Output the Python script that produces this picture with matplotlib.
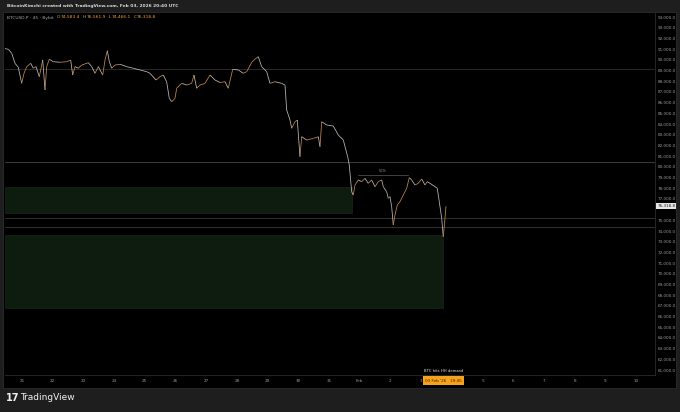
import matplotlib
matplotlib.use("Agg")
import matplotlib.pyplot as plt
from matplotlib.collections import LineCollection
from matplotlib.patches import Rectangle
import matplotlib.transforms as mtrans
import numpy as np

# ---- data (days since Jan 21 2026 00:00 UTC, BTCUSD.P price) ----
t_days = [-0.586, -0.446, -0.335, -0.228, -0.121, -0.010, 0.065, 0.153, 0.283, 0.368,
          0.456, 0.563, 0.674, 0.749, 0.804, 0.889, 1.019, 1.238, 1.456, 1.586,
          1.651, 1.726, 1.834, 1.945, 2.160, 2.270, 2.378, 2.485, 2.629, 2.704,
          2.779, 2.844, 2.922, 3.029, 3.192, 3.410, 3.625, 3.844, 4.062, 4.169,
          4.365, 4.495, 4.603, 4.713, 4.798, 4.876, 4.984, 5.039, 5.202, 5.365,
          5.527, 5.602, 5.690, 5.798, 5.961, 6.124, 6.287, 6.450, 6.612, 6.720,
          6.863, 7.046, 7.208, 7.319, 7.482, 7.590, 7.697, 7.807, 7.970, 8.078,
          8.241, 8.459, 8.567, 8.622, 8.730, 8.785, 8.893, 8.967, 9.055, 9.111,
          9.274, 9.489, 9.651, 9.707, 9.762, 9.925, 10.140, 10.303, 10.466, 10.609,
          10.661, 10.739, 10.791, 10.847, 10.954, 11.065, 11.173, 11.279, 11.390, 11.498,
          11.605, 11.716, 11.769, 11.879, 11.932, 11.987, 12.042, 12.094, 12.150, 12.225,
          12.313, 12.420, 12.531, 12.615, 12.694, 12.801, 12.909, 13.019, 13.127, 13.202,
          13.290, 13.453, 13.528, 13.593, 13.671, 13.723, 13.779, 13.811]
price = [91075, 90980, 90610, 89670, 89300, 87800, 88740, 89360, 89670, 89210,
         89360, 88420, 89980, 87180, 89360, 90050, 89820, 89770, 89820, 89980,
         88580, 89360, 89210, 89510, 89730, 89360, 88740, 89360, 88580, 89980,
         90850, 89820, 89210, 89510, 89580, 89360, 89210, 89050, 88890, 88740,
         88110, 88420, 88580, 87930, 86400, 86080, 86400, 87340, 87800, 87640,
         87800, 88580, 87340, 87640, 87800, 88580, 88110, 87880, 87950, 87340,
         89110, 89050, 88740, 88890, 89750, 90070, 90290, 89360, 88890, 87800,
         87950, 87800, 87640, 85310, 84370, 83600, 84210, 84370, 80940, 82810,
         82500, 82660, 82810, 81880, 84210, 83910, 83810, 82970, 82500, 80940,
         80170, 77670, 77360, 78300, 78770, 78610, 78920, 78460, 78770, 78140,
         78610, 78770, 78140, 77670, 77060, 77210, 76270, 74560, 75500, 76430,
         76740, 77360, 77990, 78980, 78770, 78300, 78460, 78860, 78300, 78610,
         78460, 78140, 77990, 76740, 75190, 73470, 75190, 76318.8]

x_tick_days = list(range(0, 21))
x_tick_labels = ["21", "22", "23", "24", "25", "26", "27", "28", "29", "30", "31",
                 "Feb", "2", "3", "", "5", "6", "7", "8", "9", "10"]
y_ticks = list(range(61000, 95000, 1000))

h_levels = [89140, 80450, 75240, 74340]
zone_upper = (75710, 78140, 10.74)   # low, high, end day
zone_lower = (66830, 73630, 13.73)
fib_level = 79260
fib_span = (10.94, 12.57)

last_price = 76318.8
ohlc_labels = ["O", "H", "L", "C"]
ohlc_values = ["74,583.4", "76,561.9", "74,466.1", "76,318.8"]

# ---- figure ----
W, H = 680, 412
fig = plt.figure(figsize=(W / 100, H / 100), dpi=100, facecolor="#1e1e1e")

def fx(px):
    return px / W

def fy(py):
    return 1 - py / H

# black chart pane (behind the axes)
fig.patches.append(Rectangle((fx(3), fy(388)), fx(673), (388 - 12) / H,
                             transform=fig.transFigure, facecolor="#000000",
                             edgecolor="#2c2c2c", lw=0.6, zorder=-5))

ax = fig.add_axes([fx(5), fy(375), fx(650), (375 - 13) / H])
ax.set_zorder(2)
ax.set_facecolor("#000000")
ax.set_xlim(-0.554, 20.62)
ax.set_ylim(60542, 94374)

# zones
for lo, hi, end in [zone_upper, zone_lower]:
    ax.add_patch(Rectangle((-0.554, lo), end + 0.554, hi - lo, facecolor="#0e1c10",
                           edgecolor="#17271a", lw=0.5, zorder=1))

# horizontal levels
for lv, c in zip(h_levels, ["#2e2e2e", "#464646", "#383838", "#383838"]):
    ax.axhline(lv, color=c, lw=0.6, zorder=2)

ax.plot(fib_span, [fib_level, fib_level], color="#5a5a5a", lw=0.5, zorder=2)
ax.text(np.mean(fib_span), fib_level + 150, "50%", color="#9a9a9a", fontsize=2.5,
        ha="center", va="bottom", zorder=3)

# price path, coloured by direction
pts = np.column_stack([t_days, price])
segs = np.stack([pts[:-1], pts[1:]], axis=1)
cols = ["#c68a4c" if price[i + 1] >= price[i] else "#bdbdbd" for i in range(len(price) - 1)]
ax.add_collection(LineCollection(segs, colors=cols, lw=0.55, zorder=4))

# axes styling
for s in ["top", "left"]:
    ax.spines[s].set_visible(False)
ax.spines["right"].set_color("#2c2c2c")
ax.spines["bottom"].set_color("#2c2c2c")
ax.spines["right"].set_linewidth(0.6)
ax.spines["bottom"].set_linewidth(0.6)
ax.yaxis.tick_right()
ax.set_yticks(y_ticks)
ax.set_yticklabels(["" if v == 76000 else f"{v:,.1f}" for v in y_ticks])
ax.tick_params(axis="y", length=0, pad=2, labelsize=3, labelcolor="#9a9a9a")
ax.set_xticks(x_tick_days)
ax.set_xticklabels(x_tick_labels)
ax.tick_params(axis="x", length=0, pad=2.9, labelsize=3, labelcolor="#9a9a9a")

# last price label
bt = mtrans.blended_transform_factory(ax.transAxes, ax.transData)
ax.text(1.0035, last_price, f"{last_price:,.1f}", transform=bt, fontsize=3,
        color="#222222", ha="left", va="center", zorder=6, clip_on=False,
        bbox=dict(boxstyle="square,pad=0.25", facecolor="#e6e6e6", edgecolor="none"))

# annotation and date box
bx = mtrans.blended_transform_factory(ax.transData, ax.transAxes)
ax.text(13.73, 0.006, "BTC hits HH demand", transform=bx, fontsize=2.7, color="#e0e0e0",
        ha="center", va="bottom", zorder=6)
ax.text(13.73, -0.0155, "03 Feb '26   19:45", transform=bx, fontsize=3, color="#3a2400",
        ha="center", va="center", zorder=6, clip_on=False,
        bbox=dict(boxstyle="square,pad=0.55", facecolor="#f7a21b", edgecolor="none"))

# header texts
fig.text(fx(7), fy(6), "BitcoinKimchi created with TradingView.com, Feb 03, 2026 20:40 UTC",
         fontsize=3.2, color="#d8d8d8", ha="left", va="center", fontweight="semibold")

fig.canvas.draw()
r = fig.canvas.get_renderer()

def put(x_px, s, color, size=3.2):
    t = fig.text(fx(x_px), fy(17.5), s, fontsize=size, color=color, ha="left", va="center",
                 zorder=10)
    bb = t.get_window_extent(renderer=r)
    return bb.x1

x = put(7, "BTCUSD.P · 45 · Bybit", "#a8a8a8")
x += 3
for lab, val in zip(ohlc_labels, ohlc_values):
    x = put(x, lab, "#a8a8a8")
    x = put(x + 0.5, val, "#f0a030")
    x += 2.8

# footer logo
fig.text(fx(6), fy(398), "17", fontsize=7, color="#f0f0f0", fontweight="heavy",
         ha="left", va="center")
fig.text(fx(20), fy(398), "TradingView", fontsize=6.5, color="#f0f0f0",
         ha="left", va="center")

fig.savefig("out.png", dpi=100, facecolor=fig.get_facecolor())
